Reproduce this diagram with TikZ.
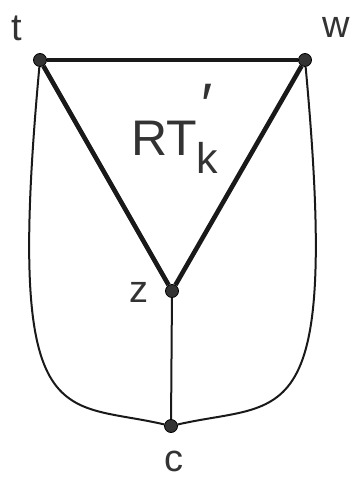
\documentclass[tikz,border=0pt]{standalone}
\usepackage{fontspec}
\setmainfont{Liberation Sans}
\definecolor{ink}{HTML}{333333}

\begin{document}
\begin{tikzpicture}[x=1pt,y=-1pt,
	vertex/.style={circle,draw=black,fill=ink,line width=0.8pt,inner sep=0pt,minimum size=13pt},
	lab/.style={text=ink,font=\fontsize{38}{40}\selectfont,inner sep=0pt},
	tri/.style={line width=4.6pt,black!90},
	rim/.style={line width=2pt,black!90}]
	\useasboundingbox (0,0) rectangle (350,479);
	% vertices
	\node[vertex] (t) at (40,60) {};
	\node[vertex] (w) at (305,60) {};
	\node[vertex] (z) at (172,291) {};
	\node[vertex] (c) at (171,426) {};
	% labels
	\node[lab] (tl) at (17,28) {t};
	\node[lab] (wl) at (336,27) {w};
	\node[lab] (zl) at (139,292) {z};
	\node[lab] (cl) at (174,461) {c};
	\node[lab,font=\fontsize{50}{52}\selectfont,anchor=base west] (rt) at (131,155)
		{RT\makebox[0pt][l]{\hspace{5pt}\raisebox{30pt}{\fontsize{60}{62}\selectfont ′}}\raisebox{-18pt}{\fontsize{43}{45}\selectfont k}};
	% triangle
	\draw[tri] (t) -- (w);
	\draw[tri] (w) -- (z);
	\draw[tri] (z) -- (t);
	% outer edges
	\draw[rim] (t) .. controls (5,440) and (60,400) .. (c);
	\draw[rim] (w) .. controls (340,440) and (285,400) .. (c);
	\draw[rim] (z) -- (c);
\end{tikzpicture}
\end{document}
